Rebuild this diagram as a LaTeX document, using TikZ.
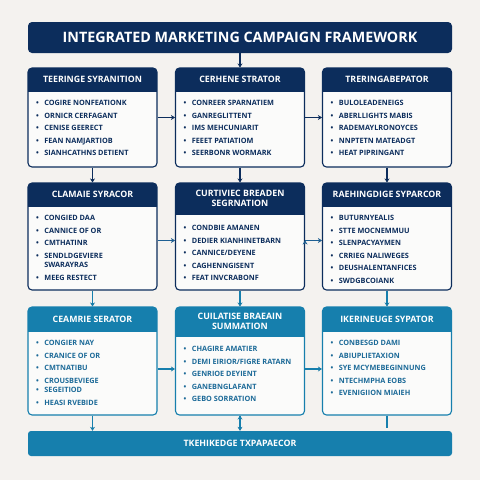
\documentclass[tikz,border=0pt]{standalone}
\usepackage{fontspec}
\setmainfont{Open Sans}
\usetikzlibrary{positioning,arrows.meta}
\definecolor{navy}{HTML}{0C2D5C}
\definecolor{teal}{HTML}{167FAD}
\definecolor{arrowblue}{HTML}{1D5F93}
\definecolor{tealtext}{HTML}{1C6A98}
\definecolor{paper}{HTML}{F4F2EF}
\definecolor{boxfill}{HTML}{FBFBFA}
\newcommand\bul{\textbullet\hspace{5.5pt}}
\newcommand\nobul{\phantom{\textbullet}\hspace{5.5pt}}

\begin{document}
\begin{tikzpicture}[x=1pt, y=-1pt,
    panel/.style 2 args={draw=#1, fill=boxfill, line width=1.1pt, rounded corners=4pt,
      minimum width=129pt, inner sep=0pt,
      path picture={\fill[#1, sharp corners] (path picture bounding box.north west)
        rectangle ([yshift=-#2]path picture bounding box.north east);}},
    headtxt/.style={text=white, font=\bfseries\fontsize{8.8}{10.5}\selectfont, align=center},
    bodytxt/.style={text=#1, font=\bfseries\fontsize{7.3}{12.6}\selectfont, align=left,
      inner sep=0pt, anchor=north west},
    link/.style={draw=#1, line width=1.2pt, -{Stealth[length=4pt,width=5pt]}}
  ]
  \fill[paper] (0,0) rectangle (480,480);
  \useasboundingbox (0,0) rectangle (480,480);

  \node[fill=navy, rounded corners=4pt, minimum width=424pt, minimum height=31pt,
    text=white, font=\bfseries\fontsize{14.3}{16}\selectfont, name=title]
    at (240,37.5) {INTEGRATED MARKETING CAMPAIGN FRAMEWORK};

  % first row
  \node[panel={navy}{24pt}, minimum height=99pt, name=r1a] at (92.5,117.5) {};
  \node[panel={navy}{24pt}, minimum height=99pt, name=r1b] at (240,117.5) {};
  \node[panel={navy}{24pt}, minimum height=99pt, name=r1c] at (387,117.5) {};
  \node[headtxt, name=r1ah] at ([yshift=-12pt]r1a.north) {TEERINGE SYRANITION};
  \node[headtxt, name=r1bh] at ([yshift=-12pt]r1b.north) {CERHENE STRATOR};
  \node[headtxt, name=r1ch] at ([yshift=-12pt]r1c.north) {TRERINGABEPATOR};
  \node[bodytxt=navy, name=r1al] at ([xshift=8.5pt,yshift=-32.5pt]r1a.north west)
    {\bul COGIRE NONFEATIONK\\ \bul ORNICR CERFAGANT\\ \bul CENISE GEERECT\\
     \bul FEAN NAMJARTIOB\\ \bul SIANHCATHNS DETIENT};
  \node[bodytxt=navy, name=r1bl] at ([xshift=8.5pt,yshift=-32.5pt]r1b.north west)
    {\bul CONREER SPARNATIEM\\ \bul GANREGLITTENT\\ \bul IMS MEHCUNIARIT\\
     \bul FEEET PATIATIOM\\ \bul SEERBONR WORMARK};
  \node[bodytxt=navy, name=r1cl] at ([xshift=8.5pt,yshift=-32.5pt]r1c.north west)
    {\bul BULOLEADENEIGS\\ \bul ABERLLIGHTS MABIS\\ \bul RADEMAYLRONOYCES\\
     \bul NNPTETN MATEADGT\\ \bul HEAT PIPRINGANT};

  % second row
  \node[panel={navy}{24pt}, minimum height=107pt, name=r2a] at (92.5,236.5) {};
  \node[panel={navy}{32pt}, minimum height=107pt, name=r2b] at (240,236.5) {};
  \node[panel={navy}{24pt}, minimum height=107pt, name=r2c] at (387,236.5) {};
  \node[headtxt, name=r2ah] at ([yshift=-12pt]r2a.north) {CLAMAIE SYRACOR};
  \node[headtxt, name=r2bh] at ([yshift=-16pt]r2b.north) {CURTIVIEC BREADEN\\ SEGRNATION};
  \node[headtxt, name=r2ch] at ([yshift=-12pt]r2c.north) {RAEHINGDIGE SYPARCOR};
  \node[bodytxt=navy, name=r2al] at ([xshift=8.5pt,yshift=-32.5pt]r2a.north west)
    {\bul CONGIED DAA\\ \bul CANNICE OF OR\\ \bul CMTHATINR\\
     \bul SENDLDGEVIERE\\[-3pt] \nobul SWARAYRAS\\ \bul MEEG RESTECT};
  \node[bodytxt=navy, name=r2bl] at ([xshift=8.5pt,yshift=-42.5pt]r2b.north west)
    {\bul CONDBIE AMANEN\\ \bul DEDIER KIANHINETBARN\\ \bul CANNICE/DEYENE\\
     \bul CAGHENNGISENT\\ \bul FEAT INVCRABONF};
  \node[bodytxt=navy, name=r2cl] at ([xshift=8.5pt,yshift=-32.5pt]r2c.north west)
    {\bul BUTURNYEALIS\\ \bul STTE MOCNEMMUU\\ \bul SLENPACYAYMEN\\
     \bul CRRIEG NALIWEGES\\ \bul DEUSHALENTANFICES\\ \bul SWDGBCOIANK};

  % third row
  \node[panel={teal}{25pt}, minimum height=108pt, name=r3a] at (92.5,361) {};
  \node[panel={teal}{30pt}, minimum height=108pt, name=r3b] at (240,361) {};
  \node[panel={teal}{25pt}, minimum height=108pt, name=r3c] at (387,361) {};
  \node[headtxt, name=r3ah] at ([yshift=-12.5pt]r3a.north) {CEAMRIE SERATOR};
  \node[headtxt, name=r3bh] at ([yshift=-15pt]r3b.north) {CUILATISE BRAEAIN\\ SUMMATION};
  \node[headtxt, name=r3ch] at ([yshift=-12.5pt]r3c.north) {IKERINEUGE SYPATOR};
  \node[bodytxt=tealtext, name=r3al] at ([xshift=8.5pt,yshift=-33.5pt]r3a.north west)
    {\bul CONGIER NAY\\ \bul CRANICE OF OR\\ \bul CMTNATIBU\\
     \bul CROUSBEVIEGE\\[-3pt] \bul SEGEITIOD\\ \bul HEASI RVEBIDE};
  \node[bodytxt=tealtext, name=r3bl] at ([xshift=8.5pt,yshift=-39.5pt]r3b.north west)
    {\bul CHAGIRE AMATIER\\ \bul DEMI EIRIOR/FIGRE RATARN\\ \bul GENRIOE DEYIENT\\
     \bul GANEBNGLAFANT\\ \bul GEBO SORRATION};
  \node[bodytxt=tealtext, name=r3cl] at ([xshift=8.5pt,yshift=-33.5pt]r3c.north west)
    {\bul CONBESGD DAMI\\ \bul ABIUPLIETAXION\\ \bul SYE MCYMEBEGINNUNG\\
     \bul NTECHMPHA EOBS\\ \bul EVENIGIION MIAIEH};

  \node[fill=teal, rounded corners=3pt, minimum width=424pt, minimum height=25pt,
    text=white, font=\bfseries\fontsize{8.8}{10}\selectfont, name=bar]
    at (240,443.5) {TKEHIKEDGE TXPAPAECOR};

  \path[link=navy]
    (title) edge (r1b)
    (r1a) edge (r1b)
    (r1b) edge (r1c)
    (r1a) edge (r2a)
    (r1b) edge (r2b)
    (r1c) edge (r2c);
  \path[link=arrowblue]
    ([yshift=-4pt]r2a.east) edge ([yshift=-4pt]r2b.west)
    ([yshift=-4pt]r2b.east) edge ([yshift=-4pt]r2c.west);
  \path[link=teal]
    (r2a) edge (r3a)
    (r2b) edge (r3b)
    (r2c) edge (r3c)
    ([yshift=-8pt]r3a.east) edge ([yshift=-8pt]r3b.west)
    ([yshift=-8pt]r3b.east) edge ([yshift=-8pt]r3c.west)
    (r3a.south) edge (r3a.south |- bar.north)
    (r3b.south) edge (r3b.south |- bar.north);
  \draw[teal, line width=1.2pt, shorten >=3pt] (r3c.south) -- (r3c.south |- bar.north);
\end{tikzpicture}
\end{document}
